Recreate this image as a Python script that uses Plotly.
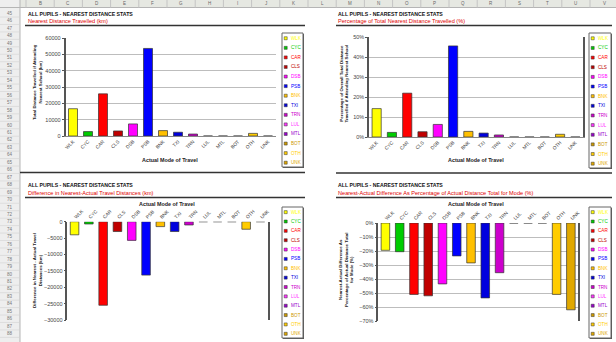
import plotly.graph_objects as go

W, H = 616, 342
FONT = "Liberation Sans"

# Mode of travel codes and their series colours
modes = ["WLK", "CYC", "CAR", "CLS", "DSB", "PSB", "BNK",
         "TXI", "TRN", "LUL", "MTL", "BOT", "OTH", "UNK"]
mode_colors = ["#FFFF00", "#00CC00", "#FF0000", "#C00000", "#FF00FF", "#0000FF", "#FFC000",
               "#0000DD", "#CC00CC", "#FF33FF", "#9900CC", "#CC9900", "#FFCC00", "#E0A800"]

# Total distance travelled if attending nearest school (km)
nearest_km = [16700, 2700, 25800, 3100, 7400, 53600, 3300,
              2300, 1200, 0, 0, 0, 1600, 0]
# Nearest - actual travel distance difference (km)
diff_km = [-4000, -700, -25500, -3000, -5700, -16300, -1500,
           -3000, -1000, 0, 0, 0, -2300, 0]
# Nearest - actual difference as % of actual distance for the mode
diff_pct = [-19.5, -20.5, -51, -52, -43.5, -23.5, -28.5,
            -53.5, -35.5, 0, 0, 0, -51, -62]

# share of the overall nearest-school distance per mode
total_km = sum(nearest_km)
nearest_share = [v / total_km for v in nearest_km]

col_letters = list("BCDEFGHIJKLMNOPQRSTUVW")
first_row = 45


def fx(px):
    return px / W


def fy(py):
    return 1 - py / H


fig = go.Figure()

panels = [
    dict(vals=nearest_km, xa="x", ya="y"),
    dict(vals=nearest_share, xa="x2", ya="y2"),
    dict(vals=diff_km, xa="x3", ya="y3"),
    dict(vals=diff_pct, xa="x4", ya="y4"),
]
for p in panels:
    fig.add_trace(go.Bar(
        x=modes, y=p["vals"], xaxis=p["xa"], yaxis=p["ya"],
        marker=dict(color=mode_colors, line=dict(color="#333333", width=0.7)),
        width=0.6, showlegend=False, hoverinfo="x+y",
    ))

tick_font = dict(family=FONT, size=5.5, color="#444444")
cat_font = dict(family=FONT, size=4.8, color="#444444")


def cat_axis(domain, anchor, side):
    return dict(domain=[fx(domain[0]), fx(domain[1])], anchor=anchor, side=side,
                type="category", tickangle=-45, tickfont=cat_font,
                showgrid=False, showline=(side == "bottom"), linecolor="#888888",
                linewidth=1, ticks="", fixedrange=True, automargin=False)


def val_axis(top, bottom, anchor, rng, dtick, grid, mirror, **kw):
    d = dict(domain=[fy(bottom), fy(top)], anchor=anchor, range=rng, dtick=dtick,
             tickfont=tick_font, showgrid=grid, gridcolor="#BDBDBD", gridwidth=1,
             showline=True, linecolor="#555555", linewidth=1.5, mirror=mirror,
             ticks="outside", ticklen=2, tickcolor="#555555", zeroline=False,
             exponentformat="none", fixedrange=True, automargin=False)
    d.update(kw)
    return d


fig.update_layout(
    xaxis=cat_axis((65.5, 275.5), "y", "bottom"),
    yaxis=val_axis(38, 136, "x", [0, 60000], 10000, True, False, tickformat="d"),
    xaxis2=cat_axis((369, 583), "y2", "bottom"),
    yaxis2=val_axis(37, 137, "x2", [0, 0.5], 0.1, True, True, tickformat=".0%"),
    xaxis3=cat_axis((67.4, 267.6), "y3", "top"),
    yaxis3=val_axis(221.7, 320, "x3", [-30000, 0], 5000, False, True, tickformat="d"),
    xaxis4=cat_axis((378.3, 578), "y4", "top"),
    yaxis4=val_axis(223, 321, "x4", [-70, 0], 10, True, True, ticksuffix="%"),
)

shapes = []
annotations = []

# spreadsheet column header band and row header strip
shapes.append(dict(type="rect", xref="paper", yref="paper", x0=0, x1=1,
                   y0=fy(7.5), y1=1, fillcolor="#E6E8E2", line=dict(width=0), layer="below"))
shapes.append(dict(type="rect", xref="paper", yref="paper", x0=0, x1=fx(20),
                   y0=0, y1=1, fillcolor="#EEEEEE", line=dict(width=0), layer="below"))
shapes.append(dict(type="line", xref="paper", yref="paper", x0=fx(20), x1=fx(20),
                   y0=0, y1=1, line=dict(color="#B5B5B5", width=1)))
shapes.append(dict(type="line", xref="paper", yref="paper", x0=0, x1=1,
                   y0=fy(7.5), y1=fy(7.5), line=dict(color="#B5B5B5", width=1)))
col_w = 28.2
for i, letter in enumerate(col_letters):
    left = 26 + i * col_w
    if left > W:
        break
    shapes.append(dict(type="line", xref="paper", yref="paper", x0=fx(left), x1=fx(left),
                       y0=fy(7.5), y1=1, line=dict(color="#C4C4C4", width=1)))
    annotations.append(dict(x=fx(left + col_w / 2), y=fy(3.8), xref="paper", yref="paper",
                            text=letter, showarrow=False, xanchor="center", yanchor="middle",
                            font=dict(family=FONT, size=4.5, color="#666666")))
row_h = 7.45
r = 0
while 13.3 + r * row_h + 4 < H:
    yc = 13.3 + r * row_h
    annotations.append(dict(x=fx(10), y=fy(yc), xref="paper", yref="paper",
                            text=str(first_row + r), showarrow=False, xanchor="center",
                            yanchor="middle", font=dict(family=FONT, size=4.5, color="#777777")))
    shapes.append(dict(type="line", xref="paper", yref="paper", x0=0, x1=fx(20),
                       y0=fy(yc + row_h / 2), y1=fy(yc + row_h / 2),
                       line=dict(color="#D2D2D2", width=0.6)))
    r += 1

# chart headings
headings = [
    (26, 13.5, 21, "Nearest Distance Travelled (km)"),
    (336, 13.5, 21, "Percentage of Total Nearest Distance Travelled (%)"),
    (26, 185, 192.5, "Difference in Nearest-Actual Travel Distances (km)"),
    (336, 185, 192.5, "Nearest-Actual Difference As Percentage of Actual Distance Total for Mode (%)"),
]
for x0, yt, ys, sub in headings:
    annotations.append(dict(x=fx(x0), y=fy(yt), xref="paper", yref="paper",
                            text="<b>ALL PUPILS - NEAREST DISTANCE STATS</b>", showarrow=False,
                            xanchor="left", yanchor="middle",
                            font=dict(family=FONT, size=5.2, color="#111111")))
    annotations.append(dict(x=fx(x0), y=fy(ys), xref="paper", yref="paper",
                            text=sub, showarrow=False, xanchor="left", yanchor="middle",
                            font=dict(family=FONT, size=5.6, color="#E00000")))

# separator rules
for x0, x1, yy in [(25, 305, 25.5), (336, 612, 25.5), (20, 305, 172.5),
                   (25, 305, 197.5), (336, 612, 173), (336, 612, 197.5)]:
    shapes.append(dict(type="line", xref="paper", yref="paper", x0=fx(x0), x1=fx(x1),
                       y0=fy(yy), y1=fy(yy), line=dict(color="#333333", width=1.5)))

# axis titles
axis_titles = [
    (170, 160, "Actual Mode of Travel"),
    (476, 160, "Actual Mode of Travel"),
    (167, 204, "Actual Mode of Travel"),
    (476, 204, "Actual Mode of Travel"),
]
for xc, yc, txt in axis_titles:
    annotations.append(dict(x=fx(xc), y=fy(yc), xref="paper", yref="paper", text=f"<b>{txt}</b>",
                            showarrow=False, xanchor="center", yanchor="middle",
                            font=dict(family=FONT, size=5.4, color="#222222")))

value_titles = [
    (38, 82, "Total Distance Travelled if Attending<br>Nearest School (km)"),
    (343.5, 84, "Percentage of Overall Total Distance<br>Travelled if Attending Nearest School"),
    (37, 271, "Difference in Nearest - Actual Travel<br>Distances (km)"),
    (346, 270, "Nearest-Actual Difference As<br>Percentage of Actual Distance Total<br>for Mode (%)"),
]
for xc, yc, txt in value_titles:
    annotations.append(dict(x=fx(xc), y=fy(yc), xref="paper", yref="paper", text=f"<b>{txt}</b>",
                            showarrow=False, xanchor="center", yanchor="middle", textangle=-90,
                            font=dict(family=FONT, size=4.4, color="#222222")))

# hand-drawn legends listing each mode in its colour
legend_boxes = [(282, 33, 303, 167), (589, 33, 611, 168), (282, 207, 303, 338), (589, 207, 611, 338)]
for lx0, ly0, lx1, ly1 in legend_boxes:
    shapes.append(dict(type="rect", xref="paper", yref="paper", x0=fx(lx0 + 1), x1=fx(lx1 + 1),
                       y0=fy(ly1 + 1), y1=fy(ly0 + 1), fillcolor="#555555",
                       line=dict(width=0), layer="below"))
    shapes.append(dict(type="rect", xref="paper", yref="paper", x0=fx(lx0), x1=fx(lx1),
                       y0=fy(ly1), y1=fy(ly0), fillcolor="#FFFFFF",
                       line=dict(color="#666666", width=1), layer="below"))
    step = (ly1 - ly0) / len(modes)
    for i, (m, c) in enumerate(zip(modes, mode_colors)):
        yc = ly0 + step * (i + 0.55)
        shapes.append(dict(type="rect", xref="paper", yref="paper",
                           x0=fx(lx0 + 2.2), x1=fx(lx0 + 5.2), y0=fy(yc + 1.5), y1=fy(yc - 1.5),
                           fillcolor=c, line=dict(color="#333333", width=0.5)))
        annotations.append(dict(x=fx(lx0 + 7), y=fy(yc), xref="paper", yref="paper", text=m,
                                showarrow=False, xanchor="left", yanchor="middle",
                                font=dict(family=FONT, size=4.6, color=c)))

fig.update_layout(
    width=W, height=H, margin=dict(l=0, r=0, t=0, b=0),
    paper_bgcolor="white", plot_bgcolor="rgba(0,0,0,0)",
    font=dict(family=FONT, size=6, color="#333333"),
    shapes=shapes, annotations=annotations, showlegend=False,
)

fig.write_html("out.html", config={"displayModeBar": False})
